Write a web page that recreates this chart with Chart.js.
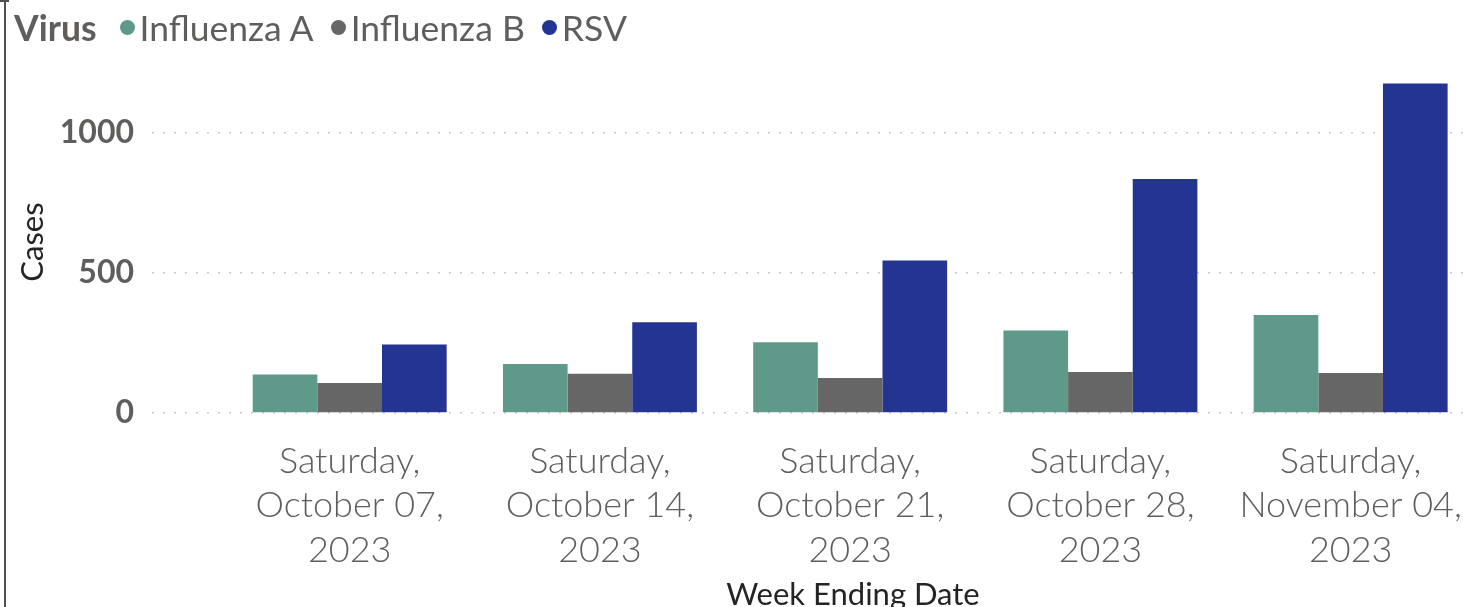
<!DOCTYPE html>
<html>
<head>
<meta charset="utf-8">
<title>Cases by Week Ending Date</title>
<script src="https://cdn.jsdelivr.net/npm/chart.js@4.4.0/dist/chart.umd.min.js"></script>
<style>
  html, body { margin: 0; padding: 0; background: #fff; overflow: hidden; }
  #wrap { position: relative; width: 1463px; height: 607px; overflow: hidden; }
  #edge { position: absolute; left: 4px; top: 0; width: 2px; height: 607px; background: #505050; }
  #edgeTop { position: absolute; left: 0; top: 0; width: 9px; height: 2px; background: #505050; }
  #legend {
    position: absolute; left: 14px; top: 6px;
    display: flex; align-items: center;
    font-family: Lato, "Open Sans", sans-serif; font-size: 35.5px; color: #605e5c;
    white-space: nowrap;
  }
  #legend .title { font-weight: bold; margin-right: 6px; }
  #legend .dot { display: inline-block; width: 15px; height: 15px; border-radius: 50%; margin: 0 5px 0 17px; }
  #xTitle {
    position: absolute; left: 853px; top: 575px; transform: translateX(-50%);
    font-family: Lato, "Open Sans", sans-serif; font-size: 31px; line-height: 36px;
    color: #252423; white-space: nowrap;
  }
</style>
</head>
<body>
<div id="wrap">
  <canvas id="myChart" width="1463" height="607"></canvas>
  <div id="edge"></div>
  <div id="edgeTop"></div>
  <div id="legend"><span class="title">Virus</span></div>
  <div id="xTitle">Week Ending Date</div>
</div>
<script>
// chart values
const weekLabels = [
  ["Saturday,", "October 07,", "2023"],
  ["Saturday,", "October 14,", "2023"],
  ["Saturday,", "October 21,", "2023"],
  ["Saturday,", "October 28,", "2023"],
  ["Saturday,", "November 04,", "2023"],
];
const virusNames = ["Influenza A", "Influenza B", "RSV"];
const influenzaA = [137, 175, 252, 294, 350];
const influenzaB = [107, 140, 125, 146, 143];
const rsv = [244, 324, 544, 835, 1175];
const yTicks = [0, 500, 1000];

const seriesColors = ["#5f998a", "#666666", "#243492"];

// legend built from the series names
const legendEl = document.getElementById("legend");
virusNames.forEach((name, i) => {
  const dot = document.createElement("span");
  dot.className = "dot";
  dot.style.background = seriesColors[i];
  legendEl.appendChild(dot);
  legendEl.appendChild(document.createTextNode(name));
});

const toPoints = (values) => values.map((v, i) => ({ x: i, y: v }));

const datasets = [influenzaA, influenzaB, rsv].map((values, i) => ({
  label: virusNames[i],
  data: toPoints(values),
  backgroundColor: seriesColors[i],
  borderWidth: 0,
  categoryPercentage: 0.775,
  barPercentage: 1.0,
}));

const ctx = document.getElementById("myChart").getContext("2d");
new Chart(ctx, {
  type: "bar",
  data: { datasets: datasets },
  options: {
    responsive: false,
    animation: false,
    devicePixelRatio: 1,
    layout: { padding: { top: 71, left: 6, right: 0, bottom: 0 } },
    plugins: {
      legend: { display: false },
      tooltip: { enabled: false },
    },
    scales: {
      x: {
        type: "linear",
        offset: false,
        min: -0.79,
        max: 4.449,
        grid: { display: false, drawTicks: false, tickLength: 0, offset: false },
        border: { display: false },
        afterBuildTicks: (scale) => {
          scale.ticks = weekLabels.map((_, i) => ({ value: i }));
        },
        afterFit: (scale) => {
          scale.height = 194;
          // let the last label run to the edge, as in the original
          scale.paddingLeft = 0;
          scale.paddingRight = 0;
        },
        ticks: {
          autoSkip: false,
          maxRotation: 0,
          padding: 26,
          color: "#605e5c",
          font: { family: "Lato", weight: 300, size: 36, lineHeight: 1.235 },
          callback: (value) => weekLabels[value],
        },
      },
      y: {
        min: 0,
        max: 1220,
        grid: { color: "#c8c8c8", lineWidth: 1.5, drawTicks: false },
        border: { display: false, dash: [2, 9] },
        afterBuildTicks: (scale) => {
          scale.ticks = yTicks.map((v) => ({ value: v }));
        },
        afterFit: (scale) => {
          scale.width = 146;
          scale.paddingTop = 0;
          scale.paddingBottom = 0;
        },
        ticks: {
          padding: 18,
          color: "#605e5c",
          font: { family: "Lato", weight: "bold", size: 32 },
          callback: (value) => String(value),
        },
        title: {
          display: true,
          text: "Cases",
          color: "#252423",
          font: { family: "Lato", size: 31 },
          padding: { top: 8, bottom: 0 },
        },
      },
    },
  },
});
</script>
</body>
</html>
